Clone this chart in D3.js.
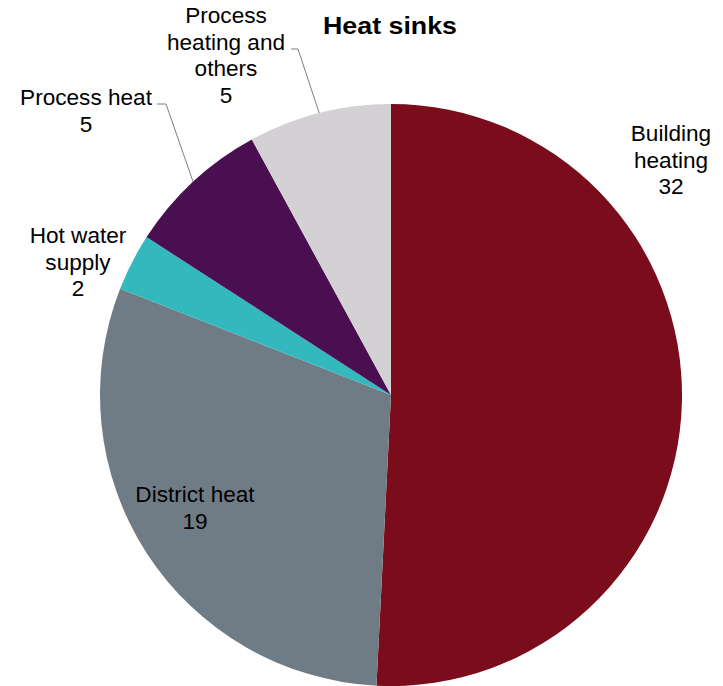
<!DOCTYPE html>
<html>
<head>
<meta charset="utf-8">
<script src="https://cdn.jsdelivr.net/npm/d3@7"></script>
<style>
  html, body { margin: 0; padding: 0; background: #ffffff; }
  svg { display: block; }
  text { font-family: "Liberation Sans", Arial, sans-serif; fill: #000; }
</style>
</head>
<body>
<svg id="chart" width="723" height="686"></svg>
<script>
// Heat sink categories and their values
const categories = ["Building heating", "District heat", "Hot water supply", "Process heat", "Process heating and others"];
const values = [32, 19, 2, 5, 5];
const colors = ["#7a0c1c", "#6f7c86", "#33b8be", "#4a0f50", "#d3d1d3"];
// Label text broken into lines
const labelLines = [
  ["Building", "heating"],
  ["District heat"],
  ["Hot water", "supply"],
  ["Process heat"],
  ["Process", "heating and", "others"]
];

const width = 723, height = 686;
const cx = 391, cy = 395, radius = 291;
const lineH = 26.6;

// Label placement: anchor (centre x, first baseline y); optional leader elbow
const labelLayout = [
  { x: 671, y: 141 },
  { x: 195, y: 502 },
  { x: 78,  y: 243 },
  { x: 86,  y: 105, leader: { start: 157, elbowX: 166, y: 104 } },
  { x: 226, y: 23,  leader: { start: 291, elbowX: 298, y: 49 } }
];

const svg = d3.select("#chart");

const data = categories.map((c, i) => ({ name: c, value: values[i], color: colors[i], lines: labelLines[i], layout: labelLayout[i] }));

const pie = d3.pie().sort(null).value(d => d.value);
const arc = d3.arc().innerRadius(0).outerRadius(radius);
const edgeArc = d3.arc().innerRadius(radius).outerRadius(radius);

const arcs = pie(data);

const g = svg.append("g").attr("transform", `translate(${cx},${cy})`);

g.selectAll("path.slice")
  .data(arcs)
  .join("path")
  .attr("class", "slice")
  .attr("d", arc)
  .attr("fill", d => d.data.color);

// Leader lines from slice edge midpoints to labels
arcs.forEach(a => {
  const L = a.data.layout.leader;
  if (!L) return;
  const [ex, ey] = edgeArc.centroid(a);
  svg.append("polyline")
    .attr("points", `${L.start},${L.y} ${L.elbowX},${L.y} ${cx + ex},${cy + ey}`)
    .attr("fill", "none")
    .attr("stroke", "#7f7f7f")
    .attr("stroke-width", 1);
});

// Labels: category lines followed by the value
arcs.forEach(a => {
  const d = a.data;
  const t = svg.append("text")
    .attr("text-anchor", "middle")
    .attr("font-size", 22.6);
  const lines = d.lines.concat([String(d.value)]);
  lines.forEach((ln, i) => {
    t.append("tspan")
      .attr("x", d.layout.x)
      .attr("y", d.layout.y + i * lineH)
      .text(ln);
  });
});

// Title
svg.append("text")
  .attr("x", 390)
  .attr("y", 34)
  .attr("text-anchor", "middle")
  .attr("font-size", 24)
  .attr("font-weight", "bold")
  .attr("textLength", 134)
  .attr("lengthAdjust", "spacingAndGlyphs")
  .text("Heat sinks");
</script>
</body>
</html>
